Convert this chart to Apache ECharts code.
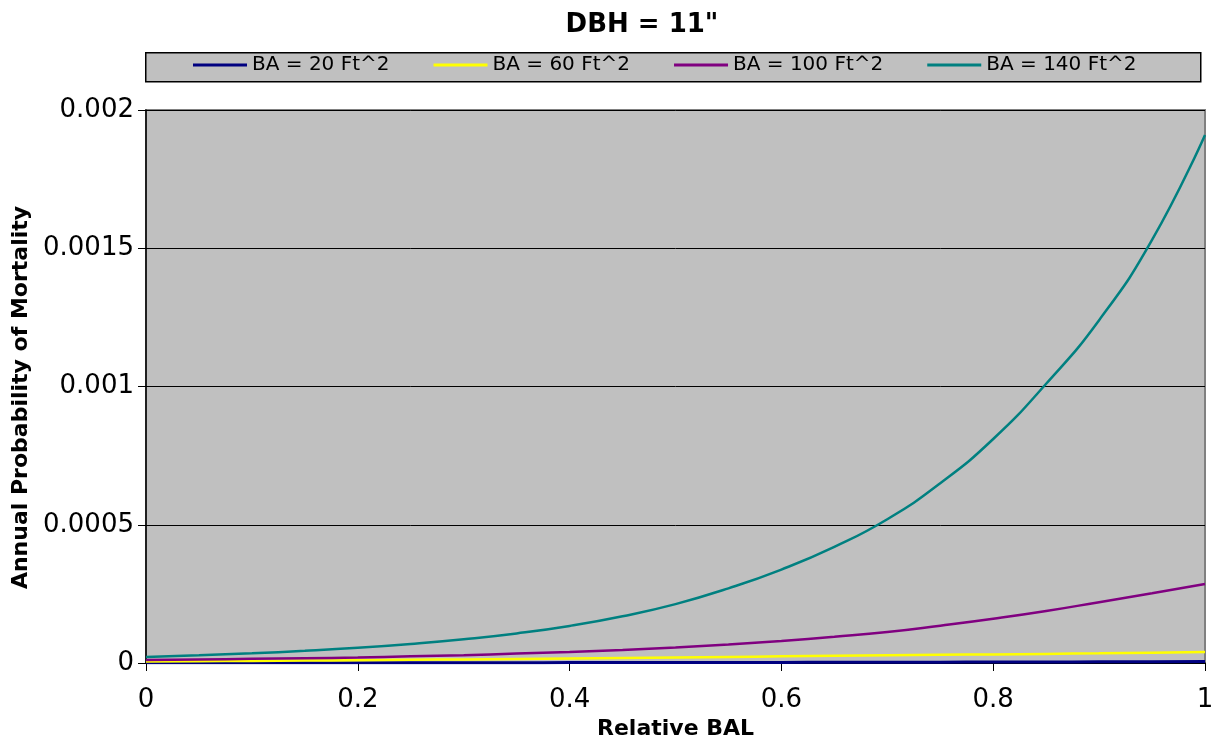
<!DOCTYPE html>
<html>
<head>
<meta charset="utf-8">
<script src="https://cdn.jsdelivr.net/npm/echarts@6/dist/echarts.min.js"></script>
<style>
  html, body { margin: 0; padding: 0; background: #fff; }
  #chart { width: 1212px; height: 737px; }
</style>
</head>
<body>
<div id="chart"></div>
<script>
// Relative BAL, step 0.05
const relBal = [0, 0.05, 0.1, 0.15, 0.2, 0.25, 0.3, 0.35, 0.4, 0.45, 0.5,
  0.55, 0.6, 0.65, 0.7, 0.75, 0.8, 0.85, 0.9, 0.95, 1];

// annual probability of mortality
const ba20 = [0.0000005, 0.0000006, 0.0000007, 0.0000008, 0.0000009, 0.000001, 0.0000011, 0.0000013, 0.0000014, 0.0000016, 0.0000018,
  0.000002, 0.0000022, 0.0000025, 0.0000028, 0.0000031, 0.0000034, 0.0000038, 0.0000042, 0.0000046, 0.000005];
const ba60 = [0.000005, 0.0000062, 0.0000075, 0.0000087, 0.00001, 0.0000115, 0.000013, 0.0000145, 0.000016, 0.000018, 0.00002,
  0.000022, 0.000024, 0.000026, 0.000028, 0.00003, 0.000031, 0.000033, 0.000035, 0.0000375, 0.00004];
const ba100 = [0.000011, 0.000013, 0.000015, 0.000017, 0.00002, 0.000024, 0.000028, 0.000034, 0.00004, 0.000047, 0.000056,
  0.000067, 0.00008, 0.000095, 0.000112, 0.000135, 0.00016, 0.000188, 0.00022, 0.000252, 0.000286];
const ba140 = [0.000022, 0.000028, 0.000035, 0.000044, 0.000055, 0.000069, 0.000086, 0.000107, 0.000134, 0.000169, 0.000213,
  0.00027, 0.000338, 0.00042, 0.00052, 0.00065, 0.00081, 0.00101, 0.00124, 0.00153, 0.00191];

const seriesNames = ['BA = 20 Ft^2', 'BA = 60 Ft^2', 'BA = 100 Ft^2', 'BA = 140 Ft^2'];
const seriesColors = ['#000080', '#FFFF00', '#800080', '#008080'];
const legendTextWidths = [144, 145, 157, 160];

const font = 'DejaVu Sans, Arial, sans-serif';

function pairs(ys) {
  return relBal.map((x, i) => [x, ys[i]]);
}

const allValues = [ba20, ba60, ba100, ba140];

let myChart = echarts.init(document.getElementById('chart'));
myChart.setOption({
  animation: false,
  title: {
    text: 'DBH = 11"',
    left: 637,
    top: 7,
    textAlign: 'center',
    textStyle: {fontFamily: font, fontSize: 26, fontWeight: 'bold', color: '#000'},
  },
  graphic: [{ //legend box
    type: 'rect',
    left: 145,
    top: 52,
    shape: {width: 1055, height: 29},
    style: {fill: '#C0C0C0', stroke: '#000', lineWidth: 1.5},
    z: 0,
  }],
  legend: {
    left: 193,
    top: 55,
    padding: 0,
    itemGap: 44,
    itemWidth: 54,
    itemHeight: 3,
    icon: 'rect',
    data: seriesNames.map((n, i) => ({name: n, textStyle: {width: legendTextWidths[i]}})),
    textStyle: {fontFamily: font, fontSize: 20, color: '#000', padding: [0, 0, 0, 0]},
  },
  grid: {
    left: 146,
    right: 7,
    top: 110,
    bottom: 74,
    outerBoundsMode: 'none',
    show: true,
    backgroundColor: '#C0C0C0',
    borderColor: '#808080',
    borderWidth: 2,
  },
  xAxis: {
    type: 'value',
    min: 0,
    max: 1,
    interval: 0.2,
    name: 'Relative BAL',
    nameLocation: 'middle',
    nameGap: 45,
    nameTextStyle: {fontFamily: font, fontSize: 22, fontWeight: 'bold', color: '#000'},
    axisLine: {lineStyle: {color: '#000', width: 1.5}},
    axisTick: {length: 8, lineStyle: {color: '#000'}},
    axisLabel: {fontFamily: font, fontSize: 26, color: '#000', margin: 24},
    splitLine: {show: false},
  },
  yAxis: {
    type: 'value',
    min: 0,
    max: 0.002,
    interval: 0.0005,
    name: 'Annual Probability of Mortality',
    nameLocation: 'middle',
    nameGap: 113,
    nameTextStyle: {fontFamily: font, fontSize: 22, fontWeight: 'bold', color: '#000', padding: [0, 22, 0, 0]},
    axisLine: {show: true, lineStyle: {color: '#000', width: 1.5}},
    axisTick: {show: true, length: 8, lineStyle: {color: '#000'}},
    axisLabel: {fontFamily: font, fontSize: 26, color: '#000', margin: 12},
    splitLine: {show: true, lineStyle: {color: '#000', width: 1}},
  },
  series: seriesNames.map((n, i) => ({
    name: n,
    type: 'line',
    data: pairs(allValues[i]),
    smooth: true,
    symbol: 'none',
    color: seriesColors[i],
    lineStyle: {color: seriesColors[i], width: i === 0 ? 3 : 2.5},
  })),
});
window.addEventListener('resize', () => myChart.resize());
</script>
</body>
</html>
